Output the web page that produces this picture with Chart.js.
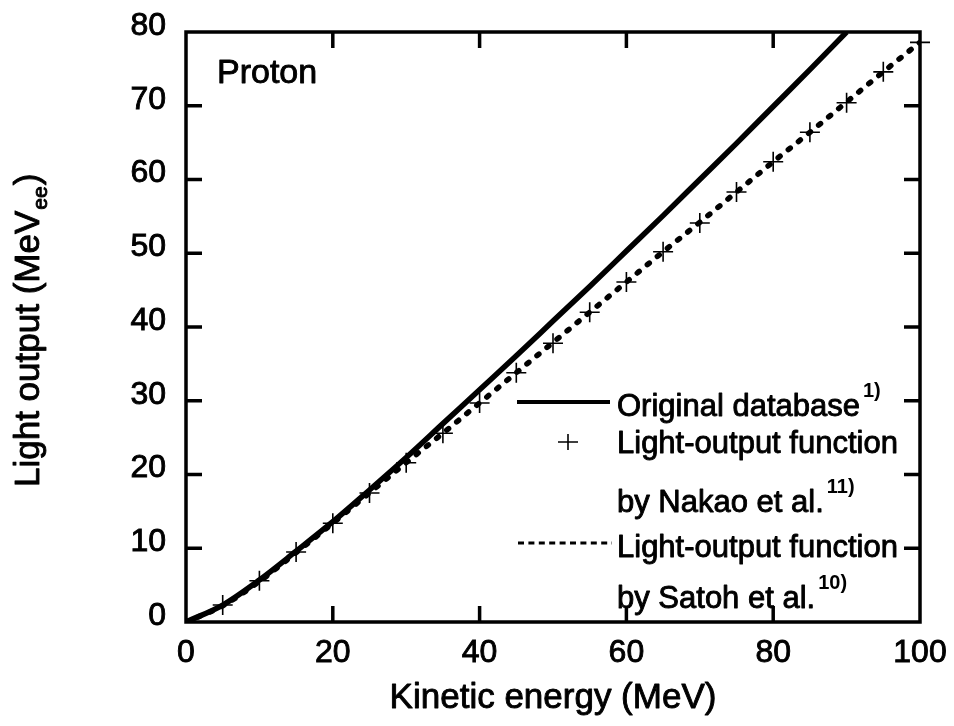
<!DOCTYPE html>
<html lang="en">
<head>
    <meta charset="UTF-8">
    <title>Proton light output</title>
    <script src="https://cdn.jsdelivr.net/npm/chart.js@4.4.0/dist/chart.umd.min.js"></script>
    <style>
        html, body {
            margin: 0;
            padding: 0;
            background: #fff;
        }
        .chart-wrap {
            position: relative;
            width: 954px;
            height: 726px;
        }
    </style>
</head>
<body>
    <div class="chart-wrap">
        <canvas id="lightChart"></canvas>
    </div>

    <script>
        const FONT = '"Liberation Sans", Arial, sans-serif';

        // Original database (solid), up to where it leaves the frame
        const originalEnergy = [0, 5, 10, 15, 20, 25, 30, 35, 40, 45, 50, 55, 60, 65, 70, 75, 80, 85, 90];
        const originalLight = [0, 2.3, 5.7, 9.6, 13.6, 17.9, 22.3, 26.9, 31.5, 36.1, 40.8, 45.5, 50.3, 55.1, 60.0, 64.9, 69.9, 74.9, 80.0];

        // Nakao et al. light-output function (crosses)
        const nakaoEnergy = [5, 10, 15, 20, 25, 30, 35, 40, 45, 50, 55, 60, 65, 70, 75, 80, 85, 90, 95, 100];
        const nakaoLight = [2.3, 5.6, 9.5, 13.4, 17.5, 21.6, 25.6, 29.7, 33.8, 37.8, 42.0, 46.1, 50.2, 54.1, 58.3, 62.4, 66.4, 70.4, 74.6, 78.6];

        // Satoh et al. light-output function (dotted)
        const satohEnergy = [0, 5, 10, 15, 20, 25, 30, 35, 40, 45, 50, 55, 60, 65, 70, 75, 80, 85, 90, 95, 100];
        const satohLight = [0, 2.2, 5.5, 9.4, 13.4, 17.5, 21.6, 25.6, 29.7, 33.8, 37.9, 42.0, 46.1, 50.2, 54.2, 58.3, 62.4, 66.4, 70.5, 74.6, 78.6];

        const xTickValues = [0, 20, 40, 60, 80, 100];
        const yTickValues = [0, 10, 20, 30, 40, 50, 60, 70, 80];

        const toPoints = (xs, ys) => xs.map((x, i) => ({ x: x, y: ys[i] }));

        const TICK = 16;
        const TEXT_STROKE = 0.9;

        // fill plus a thin outline so the lettering has the heavier printed look
        function heavyText(ctx, text, x, y) {
            ctx.fillText(text, x, y);
            ctx.strokeText(text, x, y);
        }

        // box, inward ticks, legend, panel label and axis titles
        const framePlugin = {
            id: 'framePlugin',
            afterDraw(chart) {
                const ctx = chart.ctx;
                const a = chart.chartArea;
                const xs = chart.scales.x;
                const ys = chart.scales.y;

                ctx.save();
                ctx.strokeStyle = '#000';
                ctx.fillStyle = '#000';
                ctx.lineWidth = 3.5;
                ctx.lineCap = 'butt';
                ctx.strokeRect(a.left, a.top, a.right - a.left, a.bottom - a.top);

                ctx.beginPath();
                xTickValues.slice(1, -1).forEach(v => {
                    const px = xs.getPixelForValue(v);
                    ctx.moveTo(px, a.bottom);
                    ctx.lineTo(px, a.bottom - TICK);
                    ctx.moveTo(px, a.top);
                    ctx.lineTo(px, a.top + TICK);
                });
                yTickValues.slice(1, -1).forEach(v => {
                    const py = ys.getPixelForValue(v);
                    ctx.moveTo(a.left, py);
                    ctx.lineTo(a.left + TICK, py);
                    ctx.moveTo(a.right, py);
                    ctx.lineTo(a.right - TICK, py);
                });
                ctx.stroke();

                ctx.textAlign = 'left';
                ctx.textBaseline = 'alphabetic';
                ctx.lineJoin = 'round';

                // panel label
                ctx.lineWidth = TEXT_STROKE;
                ctx.font = '34px ' + FONT;
                heavyText(ctx, 'Proton', 217, 83);

                // x axis title
                ctx.textAlign = 'center';
                ctx.font = '35px ' + FONT;
                heavyText(ctx, 'Kinetic energy (MeV)', (a.left + a.right) / 2, 708);
                ctx.textAlign = 'left';

                // legend
                const tx = 617;
                const withSup = (text, sup, y) => {
                    ctx.lineWidth = TEXT_STROKE;
                    ctx.font = '31px ' + FONT;
                    heavyText(ctx, text, tx, y);
                    if (sup) {
                        const w = ctx.measureText(text).width;
                        ctx.font = 'bold 20px ' + FONT;
                        ctx.fillText(sup, tx + w + 3, y - 19);
                    }
                };

                ctx.lineWidth = 4;
                ctx.beginPath();
                ctx.moveTo(517, 402);
                ctx.lineTo(610, 402);
                ctx.stroke();
                withSup('Original database', '1)', 416);

                ctx.lineWidth = 1.6;
                ctx.beginPath();
                ctx.moveTo(558, 442);
                ctx.lineTo(578, 442);
                ctx.moveTo(568, 434);
                ctx.lineTo(568, 450);
                ctx.stroke();
                withSup('Light-output function', null, 453);
                withSup('by Nakao et al.', '11)', 512);

                ctx.lineWidth = 3;
                ctx.setLineDash([6, 4.4]);
                ctx.beginPath();
                ctx.moveTo(518, 543);
                ctx.lineTo(612, 543);
                ctx.stroke();
                ctx.setLineDash([]);
                withSup('Light-output function', null, 557);
                withSup('by Satoh et al.', '10)', 608);

                // y axis title with subscript
                ctx.translate(39, 487);
                ctx.rotate(-Math.PI / 2);
                ctx.lineWidth = TEXT_STROKE;
                ctx.font = '35px ' + FONT;
                const main = 'Light output (MeV';
                heavyText(ctx, main, 0, 0);
                let w = ctx.measureText(main).width;
                ctx.font = '21px ' + FONT;
                heavyText(ctx, 'ee', w + 1, 8);
                w += ctx.measureText('ee').width + 2;
                ctx.font = '35px ' + FONT;
                heavyText(ctx, ')', w, 0);

                ctx.restore();
            }
        };

        const ctx = document.getElementById('lightChart').getContext('2d');
        const chart = new Chart(ctx, {
            type: 'line',
            data: {
                datasets: [
                    {
                        label: 'Light-output function by Nakao et al.',
                        data: toPoints(nakaoEnergy, nakaoLight),
                        showLine: false,
                        pointStyle: 'cross',
                        pointRadius: 10,
                        pointBorderWidth: 1.6,
                        pointBorderColor: '#000',
                        borderColor: '#000',
                        clip: false
                    },
                    {
                        label: 'Original database',
                        data: toPoints(originalEnergy, originalLight),
                        borderColor: '#000',
                        borderWidth: 5.5,
                        pointRadius: 0,
                        cubicInterpolationMode: 'monotone',
                        fill: false
                    },
                    {
                        label: 'Light-output function by Satoh et al.',
                        data: toPoints(satohEnergy, satohLight),
                        borderColor: '#000',
                        borderWidth: 5.5,
                        borderDash: [2.5, 10.5],
                        borderCapStyle: 'round',
                        pointRadius: 0,
                        cubicInterpolationMode: 'monotone',
                        fill: false
                    }
                ]
            },
            options: {
                responsive: true,
                maintainAspectRatio: false,
                animation: false,
                layout: {
                    padding: { top: 32, right: 34, left: 0, bottom: 0 }
                },
                plugins: {
                    legend: { display: false },
                    tooltip: { enabled: false }
                },
                scales: {
                    x: {
                        type: 'linear',
                        min: 0,
                        max: 100,
                        ticks: {
                            stepSize: 20,
                            color: '#000',
                            font: { family: FONT, size: 32 },
                            padding: 12,
                            maxRotation: 0,
                            textStrokeColor: '#000',
                            textStrokeWidth: TEXT_STROKE
                        },
                        grid: { display: false, drawTicks: false },
                        border: { display: false },
                        afterFit(scale) {
                            scale.height = 104;
                            scale.paddingLeft = 0;
                            scale.paddingRight = 0;
                        }
                    },
                    y: {
                        min: 0,
                        max: 80,
                        ticks: {
                            stepSize: 10,
                            color: '#000',
                            font: { family: FONT, size: 32 },
                            padding: 20,
                            labelOffset: -6,
                            textStrokeColor: '#000',
                            textStrokeWidth: TEXT_STROKE
                        },
                        grid: { display: false, drawTicks: false },
                        border: { display: false },
                        afterFit(scale) {
                            scale.width = 186;
                            scale.paddingTop = 0;
                            scale.paddingBottom = 0;
                        }
                    }
                }
            },
            plugins: [framePlugin]
        });
    </script>
</body>
</html>
